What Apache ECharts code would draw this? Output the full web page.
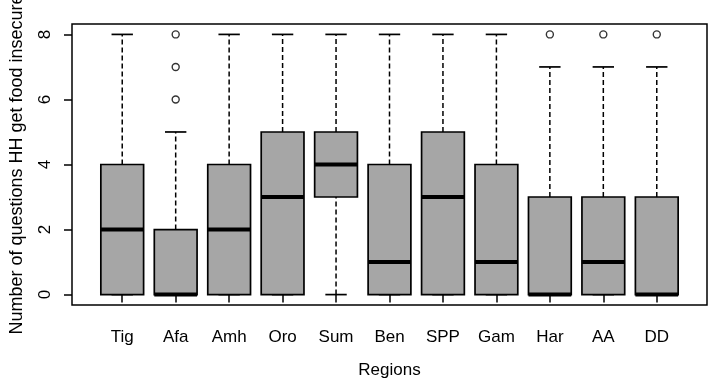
<!DOCTYPE html>
<html>
<head>
<meta charset="utf-8">
<script src="https://cdn.jsdelivr.net/npm/echarts@6/dist/echarts.min.js"></script>
<style>
  html, body { margin: 0; padding: 0; background: #fff; }
  #chart { width: 709px; height: 381px; }
</style>
</head>
<body>
<div id="chart"></div>
<script>
const regions = ['Tig', 'Afa', 'Amh', 'Oro', 'Sum', 'Ben', 'SPP', 'Gam', 'Har', 'AA', 'DD']
// five-number summaries: [min, q1, median, q3, max]
const lowerWhisker = [0, 0, 0, 0, 0, 0, 0, 0, 0, 0, 0]
const q1 = [0, 0, 0, 0, 3, 0, 0, 0, 0, 0, 0]
const median = [2, 0, 2, 3, 4, 1, 3, 1, 0, 1, 0]
const q3 = [4, 2, 4, 5, 5, 4, 5, 4, 3, 3, 3]
const upperWhisker = [8, 5, 8, 8, 8, 8, 8, 8, 7, 7, 7]
const outliers = [
  ['Afa', 6], ['Afa', 7], ['Afa', 8],
  ['Har', 8], ['AA', 8], ['DD', 8],
]
const yTicks = [0, 2, 4, 6, 8]

const font = '"Liberation Sans", Arial, sans-serif'
const boxData = regions.map((r, i) => [i, lowerWhisker[i], q1[i], median[i], q3[i], upperWhisker[i]])

function renderBox(params, api) {
  const x = api.value(0)
  const lo = api.coord([x, api.value(1)])
  const b = api.coord([x, api.value(2)])
  const m = api.coord([x, api.value(3)])
  const t = api.coord([x, api.value(4)])
  const hi = api.coord([x, api.value(5)])
  const band = api.size([1, 0])[0]
  const w = band * 0.8
  const cap = w / 2
  const cx = lo[0]
  const dashed = { stroke: '#000', lineWidth: 1.5, lineDash: [5, 3] }
  const solid = { stroke: '#000', lineWidth: 1.7 }
  return {
    type: 'group',
    children: [
      { type: 'line', shape: { x1: cx, y1: t[1], x2: cx, y2: hi[1] }, style: dashed },
      { type: 'line', shape: { x1: cx, y1: lo[1], x2: cx, y2: b[1] }, style: dashed },
      { type: 'line', shape: { x1: cx - cap / 2, y1: hi[1], x2: cx + cap / 2, y2: hi[1] }, style: solid },
      { type: 'line', shape: { x1: cx - cap / 2, y1: lo[1], x2: cx + cap / 2, y2: lo[1] }, style: solid },
      {
        type: 'rect',
        shape: { x: cx - w / 2, y: t[1], width: w, height: b[1] - t[1] },
        style: { fill: '#a6a6a6', stroke: '#000', lineWidth: 1.7 },
      },
      { type: 'line', shape: { x1: cx - w / 2, y1: m[1], x2: cx + w / 2, y2: m[1] }, style: { stroke: '#000', lineWidth: 4 } },
    ],
  }
}

const chart = echarts.init(document.getElementById('chart'))
chart.setOption({
  animation: false,
  backgroundColor: '#fff',
  grid: [
    { left: 95.5, right: 25.5, top: 24, bottom: 76, containLabel: false, outerBoundsMode: 'none' },
    // plot frame (R box around the plot region)
    {
      left: 72, right: 2, top: 24, bottom: 76, containLabel: false, outerBoundsMode: 'none',
      show: true, borderColor: '#000', borderWidth: 1.5, backgroundColor: 'transparent',
    },
  ],
  xAxis: [
    {
      type: 'category',
      data: regions,
      axisLine: { show: false },
      axisTick: { show: true, alignWithLabel: true, length: 8, lineStyle: { color: '#000', width: 1.5 } },
      axisLabel: { color: '#000', fontFamily: font, fontSize: 17, margin: 24 },
      name: 'Regions',
      nameLocation: 'middle',
      nameGap: 57,
      nameTextStyle: { color: '#000', fontFamily: font, fontSize: 17 },
      splitLine: { show: false },
    },
    { type: 'value', gridIndex: 1, show: false },
  ],
  yAxis: [
    {
      type: 'value',
      min: -0.32,
      max: 8.32,
      offset: 23.5,
      axisLine: { show: false },
      axisTick: { show: true, length: 8, customValues: yTicks, lineStyle: { color: '#000', width: 1.5 } },
      axisLabel: { color: '#000', fontFamily: font, fontSize: 17, rotate: 90, margin: 18, customValues: yTicks },
      splitLine: { show: false },
      name: 'Number of questions HH get food insecure',
      nameLocation: 'middle',
      nameGap: 46,
      nameMoveOverlap: false,
      nameTextStyle: { color: '#000', fontFamily: font, fontSize: 18 },
    },
    { type: 'value', gridIndex: 1, show: false },
  ],
  series: [
    {
      type: 'custom',
      renderItem: renderBox,
      data: boxData,
      encode: { x: 0, y: [1, 2, 3, 4, 5] },
      clip: false,
    },
    {
      type: 'scatter',
      data: outliers,
      symbol: 'circle',
      symbolSize: 7,
      itemStyle: { color: '#fff', borderColor: '#000', borderWidth: 1.4 },
      clip: false,
    },
  ],
})
</script>
</body>
</html>
